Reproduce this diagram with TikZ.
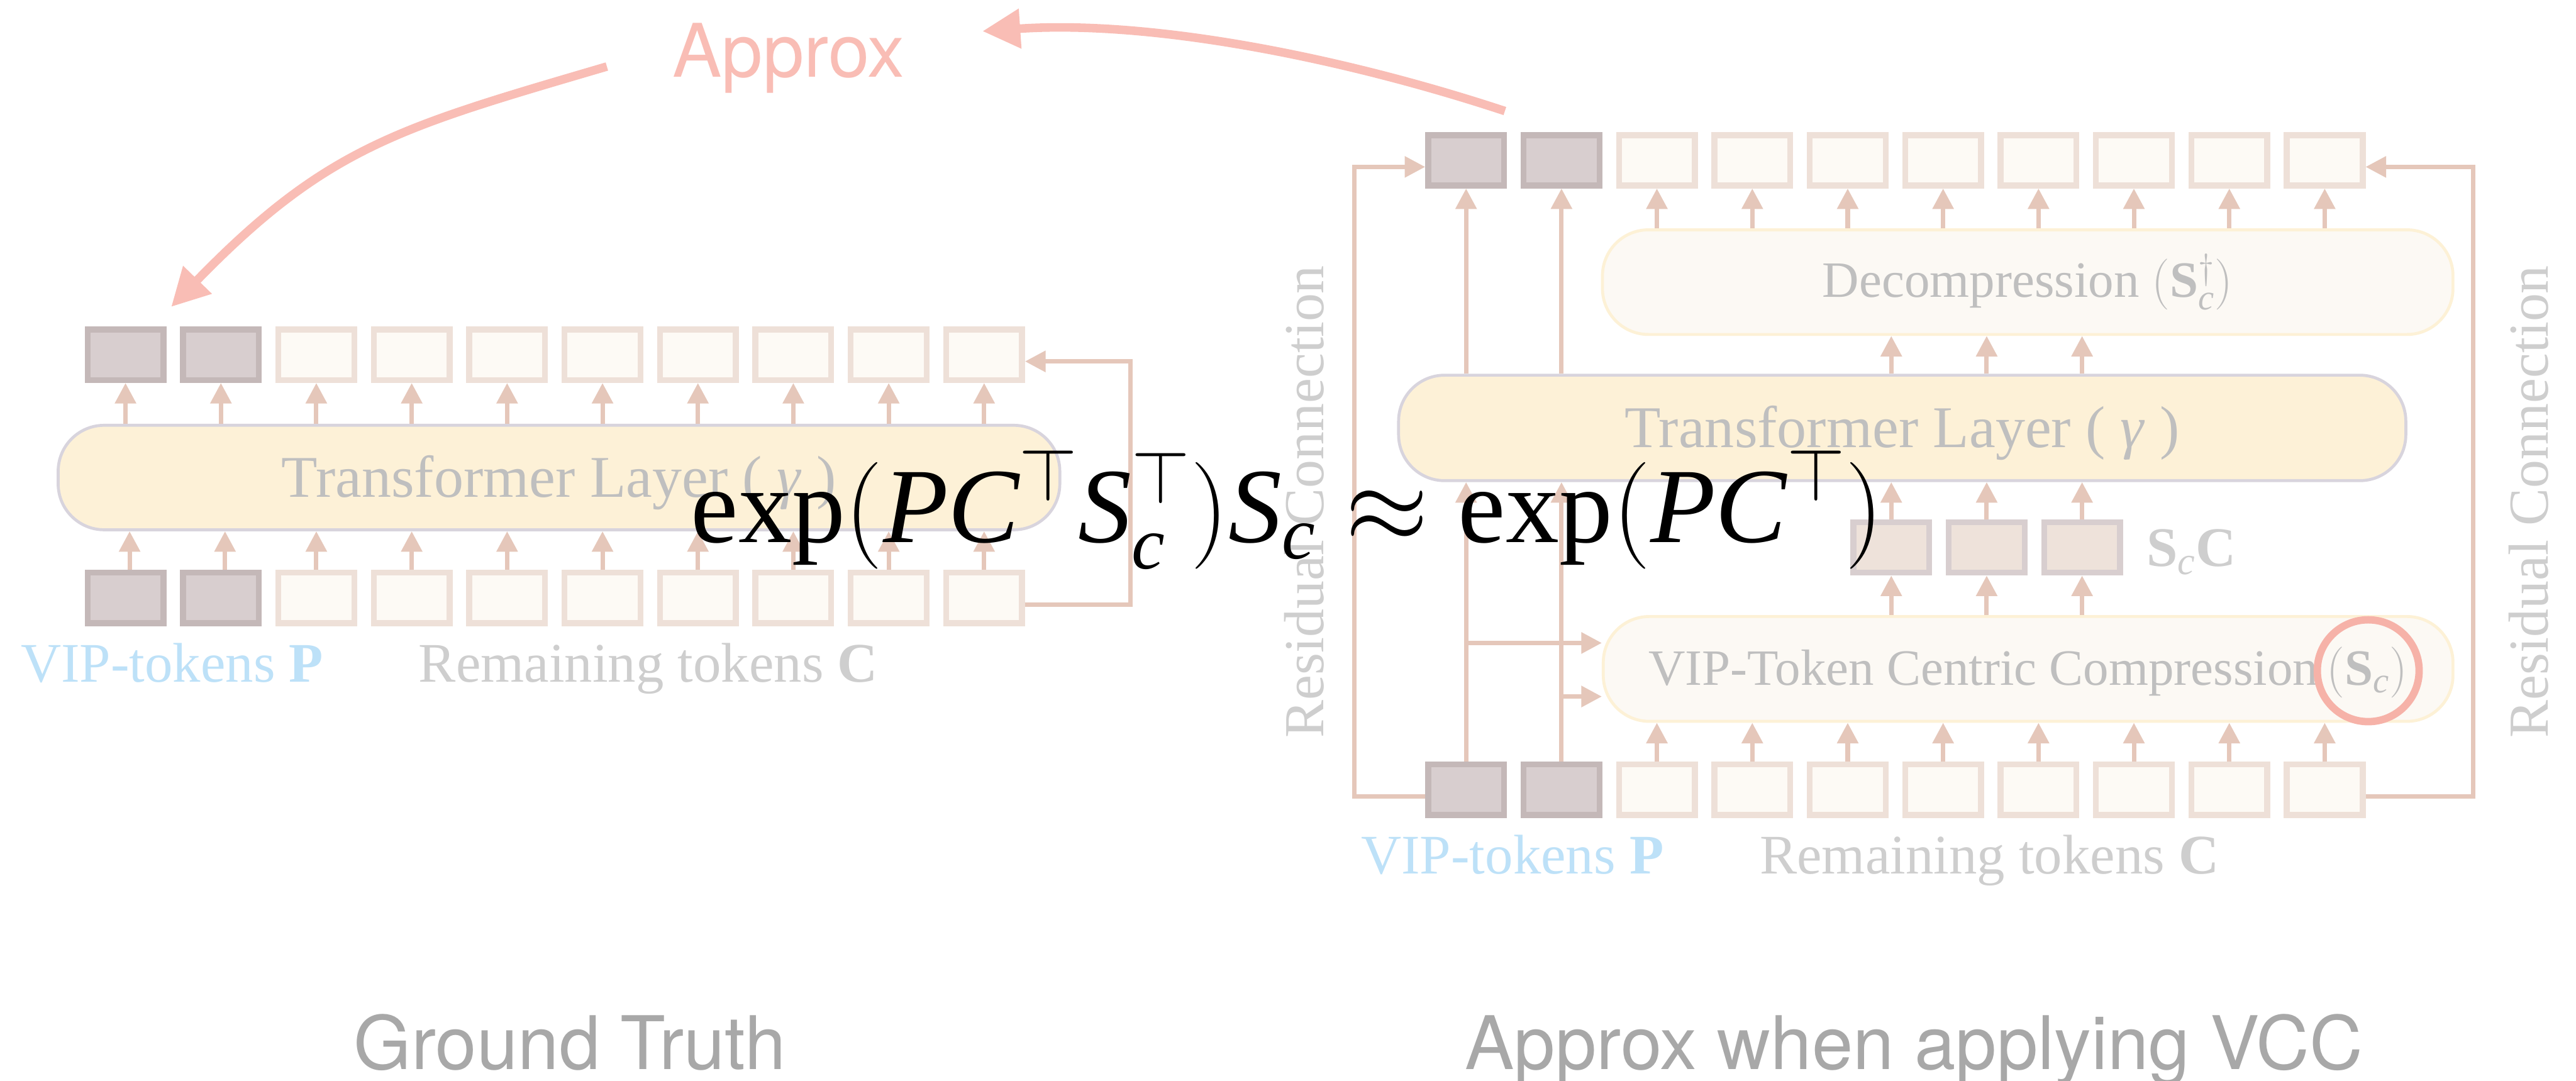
\documentclass[tikz,border=0pt]{standalone}
\usepackage{fix-cm}
\usepackage{fontspec}
\setmainfont{Liberation Serif}
\newfontfamily\headsans{TeX Gyre Heros}
\usetikzlibrary{arrows.meta,calc}

\definecolor{tokline}{RGB}{229,199,186}
\definecolor{vipedge}{RGB}{196,184,184}
\definecolor{vipfill}{RGB}{216,206,207}
\definecolor{remedge}{RGB}{238,224,216}
\definecolor{remfill}{RGB}{253,250,245}
\definecolor{scedge}{RGB}{216,206,207}
\definecolor{scfill}{RGB}{238,226,218}
\definecolor{tffill}{RGB}{253,241,215}
\definecolor{tfedge}{RGB}{216,212,221}
\definecolor{cmfill}{RGB}{252,249,244}
\definecolor{cmedge}{RGB}{253,241,214}
\definecolor{boxtext}{RGB}{191,191,191}
\definecolor{lighttext}{RGB}{206,206,206}
\definecolor{viptext}{RGB}{189,225,248}
\definecolor{salmon}{RGB}{249,189,181}
\definecolor{ringcol}{RGB}{246,178,168}
\definecolor{captiongray}{RGB}{168,168,168}

\tikzset{
  tok/.style={rectangle, line width=3.6pt, minimum width=46.2pt,
    minimum height=30.7pt, inner sep=0pt, outer sep=1.8pt},
  viptok/.style={tok, draw=vipedge, fill=vipfill},
  remtok/.style={tok, draw=remedge, fill=remfill},
  sctok/.style={tok, draw=scedge, fill=scfill},
  layerbox/.style={rectangle, rounded corners=28pt, line width=1.8pt,
    inner sep=0pt, outer sep=0.9pt},
  tflayer/.style={layerbox, draw=tfedge, fill=tffill},
  cmlayer/.style={layerbox, draw=cmedge, fill=cmfill},
  flow/.style={draw=tokline, line width=2.7pt,
    -{Triangle[length=12.5pt,width=12.5pt]}},
  resflow/.style={flow, line width=2.6pt},
  boxlabel/.style={anchor=base, inner sep=0pt, text=boxtext},
  tokenlabel/.style={anchor=base west, inner sep=0pt,
    font=\fontsize{34}{34}\selectfont},
  reslabel/.style={rotate=90, anchor=base, inner sep=0pt, text=lighttext,
    font=\fontsize{34.4}{34.4}\selectfont},
  caption/.style={anchor=base, inner sep=0pt, text=captiongray,
    font=\headsans\fontsize{45}{45}\selectfont},
  approxarrow/.style={draw=salmon, line width=5.2pt,
    -{Triangle[length=23pt,width=23pt]}},
  ring/.style={draw=ringcol, line width=4.5pt}
}

\begin{document}
\begin{tikzpicture}[x=1pt,y=-1pt]
\fill[white] (0,0) rectangle (1568,658);
\useasboundingbox (0,0) rectangle (1568,658);

% ---------- left: plain transformer layer ----------
\foreach \i in {0,1} {
  \node[viptok] (lt\i) at ({76.4+58.07*\i},216) {};
  \node[viptok] (lb\i) at ({76.4+58.07*\i},364) {};
}
\foreach \i in {2,...,9} {
  \node[remtok] (lt\i) at ({76.4+58.07*\i},216) {};
  \node[remtok] (lb\i) at ({76.4+58.07*\i},364) {};
}
\node[tflayer, minimum width=609.7pt, minimum height=63.6pt] (tfL) at (340.25,290.7) {};
\node[boxlabel, font=\fontsize{36}{36}\selectfont] (tfLtext) at (340.25,302.6)
  {Transformer Layer ( \textit{γ} )};

\foreach \i in {0,...,9}
  \draw[flow] (tfL.north -| lt\i) -- (lt\i.south);
\foreach \i in {0,1}
  \draw[flow] ($(lb\i.north)+(2.5,0)$) -- ($(lb\i.north |- tfL.south)+(2.5,0)$);
\foreach \i in {2,...,9}
  \draw[flow] (lb\i.north) -- (lb\i.north |- tfL.south);

\coordinate (resLbend) at (688,290);
\draw[resflow] ([yshift=-4pt]lb9.east) -| (resLbend) |- ([yshift=-4pt]lt9.east);

\node[tokenlabel, text=viptext] (vipL) at (12.5,415) {VIP-tokens \textbf{P}};
\node[tokenlabel, text=lighttext] (remL) at (254.7,415) {Remaining tokens \textbf{C}};

% ---------- right: layer with VIP-token centric compression ----------
\foreach \i in {0,1} {
  \node[viptok] (rt\i) at ({892.4+58.07*\i},97.6) {};
  \node[viptok] (rb\i) at ({892.4+58.07*\i},480.75) {};
}
\foreach \i in {2,...,9} {
  \node[remtok] (rt\i) at ({892.4+58.07*\i},97.6) {};
  \node[remtok] (rb\i) at ({892.4+58.07*\i},480.75) {};
}
\foreach \j in {0,1,2}
  \node[sctok] (sc\j) at ({1151.2+58.07*\j},333.25) {};

\node[cmlayer, minimum width=517.7pt, minimum height=63.7pt] (dcp) at (1234.25,171.75) {};
\node[boxlabel, font=\fontsize{31}{31}\selectfont] (dcptext) at (1234.25,181)
  {Decompression $(\mathbf{S}_{\mathit{c}}^{\dagger})$};
\node[tflayer, minimum width=613.1pt, minimum height=64.2pt] (tfR) at (1157.85,260.5) {};
\node[boxlabel, font=\fontsize{36}{36}\selectfont] (tfRtext) at (1157.85,272.4)
  {Transformer Layer ( \textit{γ} )};
\node[cmlayer, minimum width=517.2pt, minimum height=63.8pt] (cmp) at (1234.5,407.2) {};
\node[boxlabel, font=\fontsize{31}{31}\selectfont] (cmptext) at (1234.5,416.9)
  {VIP-Token Centric Compression$\,(\mathbf{S}_{\mathit{c}})$};
\coordinate (ringc) at (1441.5,408.3);
\draw[ring] (ringc) circle (31pt);

\foreach \i in {2,...,9} {
  \draw[flow] (rb\i.north) -- (rb\i.north |- cmp.south);
  \draw[flow] (dcp.north -| rt\i) -- (rt\i.south);
}
\foreach \j in {0,1,2} {
  \draw[flow] (cmp.north -| sc\j) -- (sc\j.south);
  \draw[flow] (sc\j.north) -- (sc\j.north |- tfR.south);
  \draw[flow] (tfR.north -| sc\j) -- (dcp.south -| sc\j);
}
\foreach \i in {0,1} {
  \draw[flow] (rb\i.north) -- (rb\i.north |- tfR.south);
  \draw[flow] (tfR.north -| rt\i) -- (rt\i.south);
}
\coordinate (hA) at (0,391.4);
\coordinate (hB) at (0,424);
\draw[flow] (rb0 |- hA) -- (cmp.west |- hA);
\draw[flow] (rb1 |- hB) -- (cmp.west |- hB);

\coordinate (resRLbend) at (824.5,290);
\coordinate (resRRbend) at (1505.3,290);
\draw[resflow] ([yshift=-4pt]rb0.west) -| (resRLbend) |- ([yshift=-4pt]rt0.west);
\draw[resflow] ([yshift=-4pt]rb9.east) -| (resRRbend) |- ([yshift=-4pt]rt9.east);

\node[reslabel] (resTxtL) at (805.5,305.4) {Residual Connection};
\node[reslabel] (resTxtR) at (1551,305.4) {Residual Connection};

\node[tokenlabel, text=lighttext] (sclabel) at (1306.5,344.7)
  {\textbf{S}$_{\mathit{c}}$\textbf{C}};
\node[tokenlabel, text=viptext] (vipR) at (828.3,531.8) {VIP-tokens \textbf{P}};
\node[tokenlabel, text=lighttext] (remR) at (1071,531.8) {Remaining tokens \textbf{C}};

% ---------- captions ----------
\node[caption] (capL) at (347,651) {Ground Truth};
\node[caption] (capR) at (1165,651) {Approx when applying VCC};

% ---------- approximation arrows ----------
\node[anchor=base west, inner sep=0pt, text=salmon,
  font=\headsans\fontsize{45}{45}\selectfont] (approx) at (409.2,47) {Approx};
\coordinate (apxFrom) at (916,67.6);
\coordinate (apxTo) at (598,19);
\coordinate (gtFrom) at (369.4,40.5);
\coordinate (gtTo) at (104.2,186.8);
\draw[approxarrow] (apxFrom) .. controls (816,34.6) and (700,12) .. (apxTo);
\draw[approxarrow] (gtFrom) .. controls (243.1,77.6) and (199,89.3) .. (gtTo);

% ---------- formula ----------
\node[anchor=base west, inner sep=0pt, font=\fontsize{65}{65}\selectfont] (formula)
  at (420.4,330.2)
  {$\exp(\mathit{PC}^{\top}\mathit{S}_{\mathit{c}}^{\top})\mathit{S}_{\mathit{c}}\approx\exp(\mathit{PC}^{\top})$};
\end{tikzpicture}
\end{document}
